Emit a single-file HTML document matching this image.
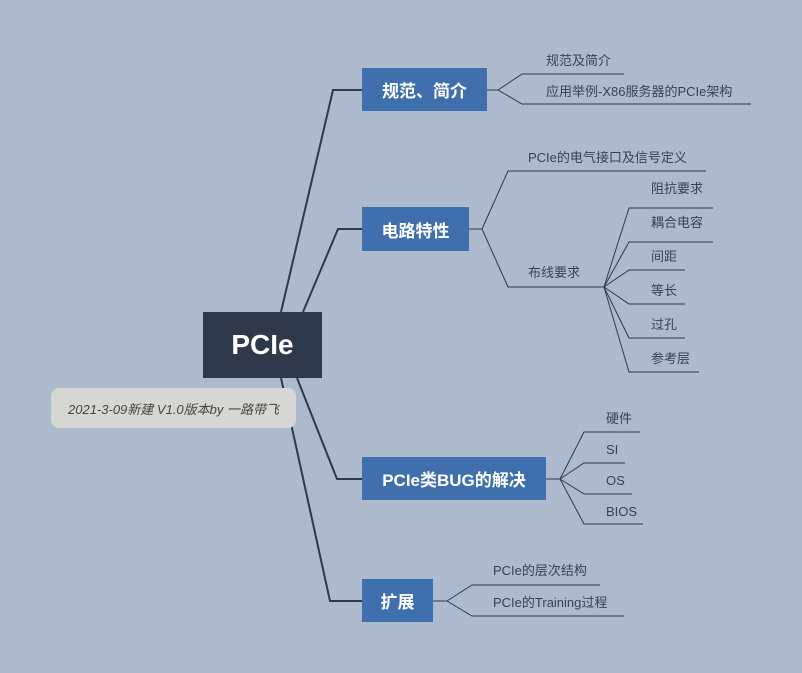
<!DOCTYPE html>
<html><head><meta charset="utf-8"><style>
body{margin:0;width:802px;height:673px;background:#adbacd;position:relative;overflow:hidden;font-family:"Liberation Sans","Noto Sans CJK SC",sans-serif}
.b{position:absolute;background:#3f70ad;color:#fff;font-weight:bold;font-size:17px;display:flex;align-items:center;justify-content:center}
.t{position:absolute;font-size:13px;color:#384252;white-space:nowrap;line-height:16px}
</style></head><body>
<svg width="802" height="673" style="position:absolute;left:0;top:0">
<g stroke="#2e3a4b" stroke-width="2" fill="none">
<polyline points="281,312 333,90 362,90"/>
<polyline points="303,312 338,229 362,229"/>
<polyline points="297,378 337,479 362,479"/>
<polyline points="281,378 330,601 362,601"/>
</g>
<g stroke="#2e3a4b" stroke-width="1" fill="none">
<polyline points="487,90 498,90"/><polyline points="498,90 522,74 624,74"/><polyline points="498,90 522,104 751,104"/>
<polyline points="469,229 482,229"/><polyline points="482,229 508,171 706,171"/><polyline points="482,229 508,287 604,287"/>
<polyline points="604,287 629,208 713,208"/><polyline points="604,287 629,242 713,242"/><polyline points="604,287 629,270 685,270"/>
<polyline points="604,287 629,304 685,304"/><polyline points="604,287 629,338 685,338"/><polyline points="604,287 629,372 699,372"/>
<polyline points="546,479 560,479"/><polyline points="560,479 584,432 640,432"/><polyline points="560,479 584,463 625,463"/>
<polyline points="560,479 584,494 632,494"/><polyline points="560,479 584,524 643,524"/>
<polyline points="433,601 447,601"/><polyline points="447,601 472,585 600,585"/><polyline points="447,601 472,616 624,616"/>
</g>
</svg>
<div style="position:absolute;left:203px;top:312px;width:119px;height:66px;background:#2e3a4b;color:#fff;font-weight:bold;font-size:28px;display:flex;align-items:center;justify-content:center">PCIe</div>
<div style="position:absolute;left:51px;top:388px;width:245px;height:40px;background:#d6d7d2;border-radius:8px;font-style:italic;font-size:13px;color:#444;display:flex;align-items:center;justify-content:center">2021-3-09新建 V1.0版本by 一路带飞</div>
<div class="b" style="left:362px;top:68px;width:125px;height:43px">规范、简介</div>
<div class="b" style="left:362px;top:207px;width:107px;height:44px">电路特性</div>
<div class="b" style="left:362px;top:457px;width:184px;height:43px">PCIe类BUG的解决</div>
<div class="b" style="left:362px;top:579px;width:71px;height:43px">扩展</div>
<div class="t" style="left:546px;top:53px">规范及简介</div>
<div class="t" style="left:546px;top:84px">应用举例-X86服务器的PCIe架构</div>
<div class="t" style="left:528px;top:150px">PCIe的电气接口及信号定义</div>
<div class="t" style="left:528px;top:265px">布线要求</div>
<div class="t" style="left:651px;top:181px">阻抗要求</div>
<div class="t" style="left:651px;top:215px">耦合电容</div>
<div class="t" style="left:651px;top:249px">间距</div>
<div class="t" style="left:651px;top:283px">等长</div>
<div class="t" style="left:651px;top:317px">过孔</div>
<div class="t" style="left:651px;top:351px">参考层</div>
<div class="t" style="left:606px;top:411px">硬件</div>
<div class="t" style="left:606px;top:442px">SI</div>
<div class="t" style="left:606px;top:473px">OS</div>
<div class="t" style="left:606px;top:504px">BIOS</div>
<div class="t" style="left:493px;top:563px">PCIe的层次结构</div>
<div class="t" style="left:493px;top:595px">PCIe的Training过程</div>
</body></html>
